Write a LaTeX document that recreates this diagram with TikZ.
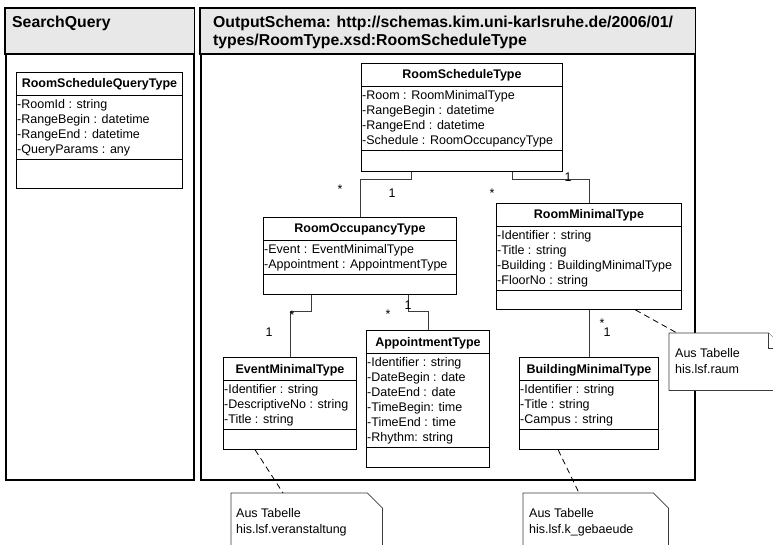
\documentclass[tikz,border=0pt]{standalone}
\usepackage{fontspec}
\setmainfont{Liberation Sans}
\usetikzlibrary{calc}

\definecolor{headgrey}{RGB}{232,232,232}
\definecolor{linegrey}{RGB}{60,60,60}

\tikzset{
    pkgframe/.style = {draw=black, line width=1.6pt, inner sep=0pt},
    pkghead/.style = {draw=black, line width=1.6pt, fill=headgrey},
    pkgtitle/.style = {font=\bfseries\fontsize{15.8}{18}\selectfont, inner sep=0pt, anchor=base west},
    classbox/.style = {draw=black, line width=0.9pt, fill=white, inner sep=0pt},
    classsep/.style = {draw=black, line width=0.9pt},
    classtitle/.style = {font=\bfseries\fontsize{12.5}{15}\selectfont, inner sep=0pt, anchor=base},
    attrtext/.style = {font=\fontsize{12.5}{15}\selectfont, inner sep=0pt, anchor=base west},
    assoc/.style = {draw=linegrey, line width=0.9pt},
    mult/.style = {font=\fontsize{12.5}{15}\selectfont, inner sep=0pt},
    notebox/.style = {inner sep=0pt},
    noteline/.style = {draw=linegrey, line width=0.8pt, fill=white},
    notetext/.style = {font=\fontsize{12.5}{15.5}\selectfont, inner sep=0pt, align=left, anchor=north west},
    notelink/.style = {draw=black, line width=0.8pt, dash pattern=on 6pt off 4pt}
}

% name, left, top, width, no. of attributes, height of last part, title, attributes
\newcommand{\umlclass}[8]{%
    \pgfmathsetmacro{\attrbot}{23+#5*15+4}
    \pgfmathsetmacro{\boxh}{\attrbot+#6}
    \node[classbox, minimum width=#4pt, minimum height=\boxh pt, anchor=north west]
        (#1) at (#2, #3) {};
    \node[classtitle] (#1-title) at ($(#1.north)+(0, 16)$) {#7};
    \draw[classsep]
        ($(#1.north west)+(0, 23)$) -- ($(#1.north east)+(0, 23)$);
    \draw[classsep]
        ($(#1.north west)+(0, \attrbot)$) -- ($(#1.north east)+(0, \attrbot)$);
    \foreach \attline [count=\i] in {#8}
        \node[attrtext] (#1-a\i) at ($(#1.north west)+(1, 21.5+15*\i)$) {\attline};
}

% name, left, top, width, height
\newcommand{\umlnote}[5]{%
    \node[notebox, minimum width=#4pt, minimum height=#5pt, anchor=north west]
        (#1) at (#2, #3) {};
    \draw[noteline]
        (#1.north west) -- ($(#1.north east)+(-15, 0)$)
        -- ($(#1.north east)+(0, 15)$) -- (#1.south east)
        -- (#1.south west) -- cycle;
}

\begin{document}
\begin{tikzpicture}[x=1pt, y=-1pt]

    \useasboundingbox (0, 0) rectangle (773, 545);
    \clip (0, 0) rectangle (773, 545);

    % packages
    \node[pkgframe, minimum width=188pt, minimum height=471pt, anchor=north west]
        (searchpkg) at (5, 8) {};
    \draw[pkghead]
        (searchpkg.north west) rectangle ($(searchpkg.north east)+(0, 46)$);
    \node[pkgtitle] (searchpkg-title) at (12, 27.5) {SearchQuery};

    \node[pkgframe, minimum width=494pt, minimum height=471pt, anchor=north west]
        (outpkg) at (200, 8) {};
    \draw[pkghead]
        (outpkg.north west) rectangle ($(outpkg.north east)+(0, 46)$);
    \node[pkgtitle] (outpkg-title1) at (213, 27.5)
        {OutputSchema: http://schemas.kim.uni-karlsruhe.de/2006/01/};
    \node[pkgtitle] (outpkg-title2) at (213, 46)
        {types/RoomType.xsd:RoomScheduleType};

    % classes
    \umlclass{rsq}{16}{72}{166}{4}{29}{RoomScheduleQueryType}
        {-RoomId : string, -RangeBegin : datetime, -RangeEnd : datetime, -QueryParams : any}
    \umlclass{rst}{361}{63}{201}{4}{21}{RoomScheduleType}
        {-Room : RoomMinimalType, -RangeBegin : datetime, -RangeEnd : datetime,
         -Schedule : RoomOccupancyType}
    \umlclass{occ}{263}{217}{193}{2}{20}{RoomOccupancyType}
        {-Event : EventMinimalType, -Appointment : AppointmentType}
    \umlclass{rmin}{496}{203}{185}{4}{19}{RoomMinimalType}
        {-Identifier : string, -Title : string, -Building : BuildingMinimalType,
         -FloorNo : string}
    \umlclass{evt}{223}{357}{133}{3}{20}{EventMinimalType}
        {-Identifier : string, -DescriptiveNo : string, -Title : string}
    \umlclass{appt}{366}{330}{123}{6}{20}{AppointmentType}
        {-Identifier : string, -DateBegin : date, -DateEnd : date,
         -TimeBegin: time, -TimeEnd : time, -Rhythm: string}
    \umlclass{bld}{519}{357}{139}{3}{20}{BuildingMinimalType}
        {-Identifier : string, -Title : string, -Campus : string}

    % associations
    \draw[assoc] ($(rst.south west)+(50, 0)$) -- ++(0, 8) -| (occ.north);
    \draw[assoc] ($(rst.south east)+(-50, 0)$) -- ++(0, 8) -| (rmin.north);
    \draw[assoc] ($(occ.south west)+(48, 0)$) -- ++(0, 17) -| (evt.north);
    \draw[assoc] ($(occ.south east)+(-48, 0)$) -- ++(0, 17) -| (appt.north);
    \draw[assoc] (rmin.south) -- (bld.north);

    \node[mult] (m-occ-a) at (340, 189) {*};
    \node[mult] (m-occ-b) at (392, 193) {1};
    \node[mult] (m-rmin-a) at (492, 193) {*};
    \node[mult] (m-rmin-b) at (568, 177) {1};
    \node[mult] (m-evt-a) at (292, 315) {*};
    \node[mult] (m-evt-b) at (269, 332) {1};
    \node[mult] (m-appt-a) at (388, 314) {*};
    \node[mult] (m-appt-b) at (408, 305) {1};
    \node[mult] (m-bld-a) at (602, 323.5) {*};
    \node[mult] (m-bld-b) at (607, 332) {1};

    % notes
    \umlnote{rnote}{669}{333}{114}{57}
    \draw[noteline] ($(rnote.north east)+(-15, 0)$) -- ++(0, 15) -- ++(15, 0);
    \node[notetext] (rnote-text) at ($(rnote.north west)+(6, 15.5)$)
        {Aus Tabelle\\his.lsf.raum};
    \draw[notelink] ($(rmin.south east)!0.25!(rmin.south west)$)
        -- ($(rnote.north west)+(8, 0)$);

    \umlnote{vnote}{231}{493}{151}{60}
    \node[notetext] (vnote-text) at ($(vnote.north west)+(5, 15.5)$)
        {Aus Tabelle\\his.lsf.veranstaltung};
    \draw[notelink] ($(evt.south west)!0.24!(evt.south east)$)
        -- ($(vnote.north west)+(52, 0)$);

    \umlnote{gnote}{523}{493}{145}{60}
    \node[notetext] (gnote-text) at ($(gnote.north west)+(6, 15.5)$)
        {Aus Tabelle\\his.lsf.k\_gebaeude};
    \draw[notelink] ($(bld.south west)!0.28!(bld.south east)$)
        -- ($(gnote.north west)+(56, 0)$);

\end{tikzpicture}
\end{document}
